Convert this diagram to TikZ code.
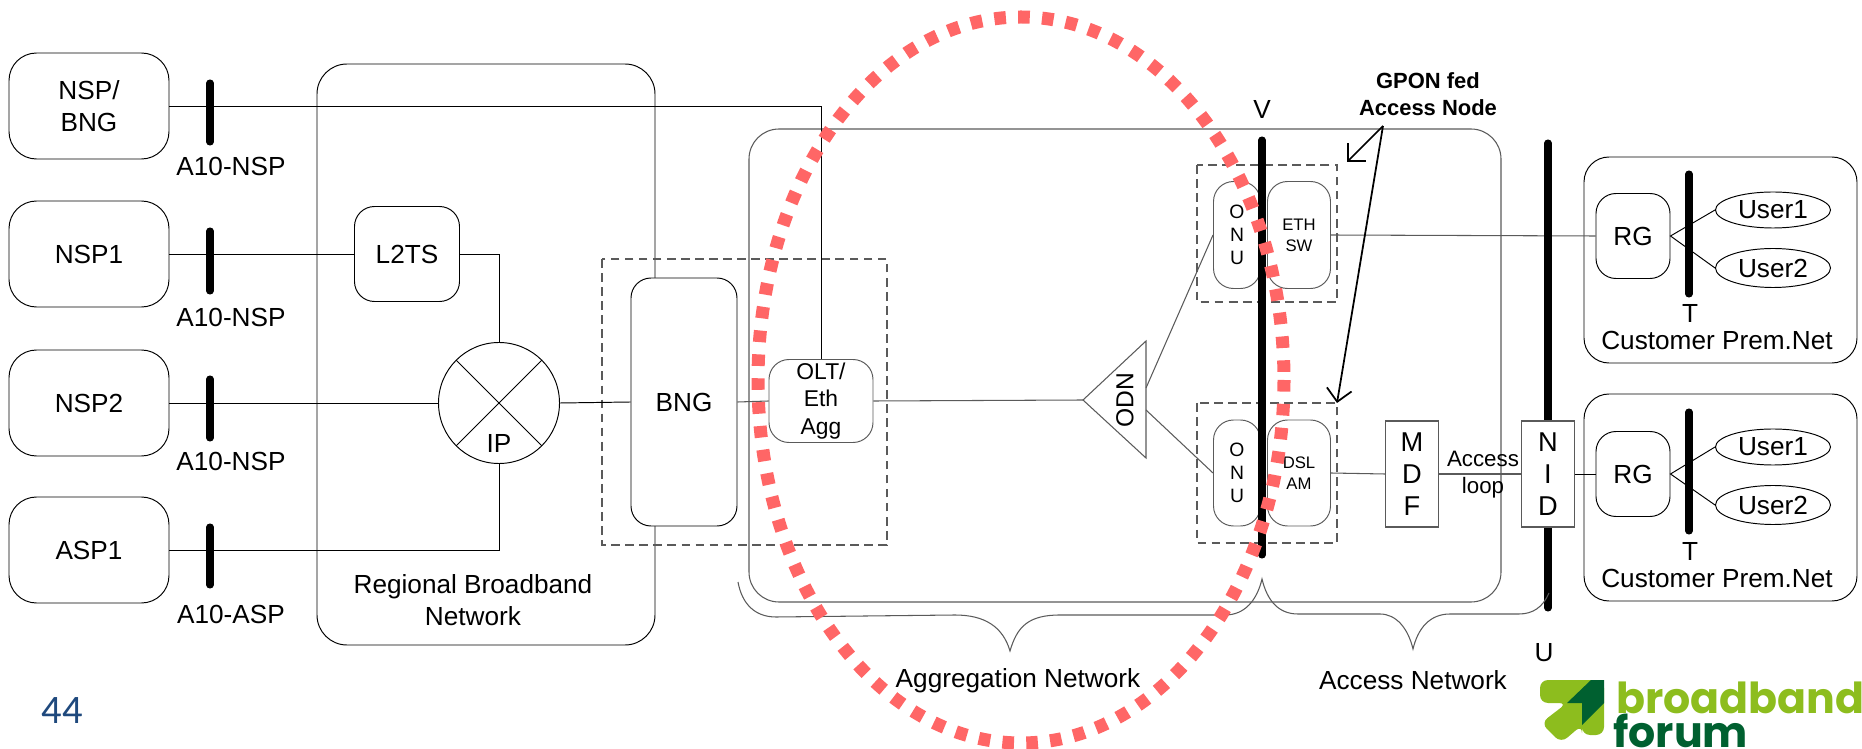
\documentclass[tikz,border=0pt]{standalone}
\usepackage{fontspec}
\usepackage{xcolor}
\usetikzlibrary{arrows.meta,shapes.geometric}
\setmainfont{Liberation Sans}
\newfontfamily\numfont{Carlito}
\newfontfamily\logofont{Poppins}
\definecolor{linegray}{HTML}{5A5A5A}
\definecolor{redring}{HTML}{FF6666}
\definecolor{bflight}{HTML}{8DBD1E}
\definecolor{bfdark}{HTML}{006030}
\definecolor{pagenum}{HTML}{1F497D}
\tikzset{
    every node/.style={inner sep=0pt,font=\fontsize{14.9}{18.5}\selectfont,align=center},
    netbox/.style={draw,fill=white,rounded corners=0.4cm,line width=0.55pt},
    sqbox/.style={draw=linegray,fill=white,line width=0.6pt},
    wire/.style={line width=0.55pt},
    graywire/.style={draw=linegray,line width=0.6pt},
    refbar/.style={line width=4pt,line cap=round},
    dashbox/.style={draw=linegray,dashed,dash pattern=on 5pt off 3pt,line width=0.6pt},
    smalltxt/.style={font=\fontsize{9.5}{12}\selectfont},
    onutxt/.style={font=\fontsize{11}{13}\selectfont},
}
\begin{document}
\begin{tikzpicture}[x=0.2mm,y=-0.2mm]
        \useasboundingbox (0,0) rectangle (1862,749);
        % regions
        \draw[wire,rounded corners=0.6cm] (317,64) rectangle (655,645);
        \draw[graywire,rounded corners=0.6cm] (749,129) rectangle (1501,602);
        \draw[dashbox] (602,259) rectangle (887,545);
        \draw[dashbox] (1197,165) rectangle (1337,302);
        \draw[dashbox] (1197,403) rectangle (1337,543);
        \draw[wire,rounded corners=0.5cm] (1584,157) rectangle (1857,363);
        \draw[wire,rounded corners=0.5cm] (1584,394) rectangle (1857,601);
        % service providers
        \node[netbox,rounded corners=0.55cm,minimum width=3.2cm,minimum height=2.12cm] at (89,106) (nspbng) {NSP/\\BNG};
        \node[netbox,rounded corners=0.55cm,minimum width=3.2cm,minimum height=2.12cm] at (89,254) (nsp1) {NSP1};
        \node[netbox,rounded corners=0.55cm,minimum width=3.2cm,minimum height=2.12cm] at (89,403) (nsp2) {NSP2};
        \node[netbox,rounded corners=0.55cm,minimum width=3.2cm,minimum height=2.12cm] at (89,550) (asp1) {ASP1};
        % regional network
        \node[netbox,minimum width=2.1cm,minimum height=1.9cm] at (407,254) (l2ts) {L2TS};
        \node[draw,circle,fill=white,line width=0.55pt,minimum size=2.42cm] at (499,403) (ip) {};
        \node at (499,443) (iptxt) {IP};
        \node[netbox,minimum width=2.12cm,minimum height=4.96cm] at (684,402) (bng) {BNG};
        \node[netbox,draw=linegray,minimum width=2.08cm,minimum height=1.66cm,font=\fontsize{13}{15.5}\selectfont] at (821,401) (olt) {OLT/\\Eth\\Agg};
        % optical distribution
        \coordinate (odna) at (1083,400);
        \coordinate (odnb) at (1146,341);
        \coordinate (odnc) at (1146,458);
        \coordinate (odnu) at (1146,388);
        \coordinate (odnl) at (1146,410);
        \draw[graywire] (odna) -- (odnb) -- (odnc) -- cycle;
        \node[rotate=90,font=\fontsize{14}{16}\selectfont] at (1125,400) (odn) {ODN};
        % access nodes
        \node[netbox,draw=linegray,minimum width=0.94cm,minimum height=2.14cm,onutxt] at (1237,235) (onu1) {O\\N\\U};
        \node[netbox,draw=linegray,minimum width=0.94cm,minimum height=2.12cm,onutxt] at (1237,473) (onu2) {O\\N\\U};
        \node[netbox,draw=linegray,minimum width=1.26cm,minimum height=2.14cm,smalltxt] at (1299,235) (ethsw) {ETH\\SW};
        \node[netbox,draw=linegray,minimum width=1.26cm,minimum height=2.12cm,smalltxt] at (1299,473) (dslam) {DSL\\AM};
        \node[sqbox,minimum width=1.06cm,minimum height=2.12cm,font=\fontsize{15.5}{18}\selectfont] at (1412,474) (mdf) {M\\D\\F};
        % customer side
        \node[netbox,minimum width=1.48cm,minimum height=1.7cm] at (1633,236) (rg1) {RG};
        \node[netbox,minimum width=1.48cm,minimum height=1.7cm] at (1633,474) (rg2) {RG};
        \node[draw,ellipse,line width=0.55pt,minimum width=2.3cm,minimum height=0.72cm] at (1773,210) (user1a) {User1};
        \node[draw,ellipse,line width=0.55pt,minimum width=2.3cm,minimum height=0.78cm] at (1773,268) (user2a) {User2};
        \node[draw,ellipse,line width=0.55pt,minimum width=2.3cm,minimum height=0.72cm] at (1773,447) (user1b) {User1};
        \node[draw,ellipse,line width=0.55pt,minimum width=2.3cm,minimum height=0.78cm] at (1773,505) (user2b) {User2};
        % links
        \draw[wire] (nspbng.east) -| (olt.north);
        \draw[wire] (nsp1.east) -- (l2ts.west);
        \draw[wire] (nsp2.east) -- (ip.west);
        \draw[wire] (asp1.east) -| (ip.south);
        \draw[wire] (l2ts.east) -| (ip.north);
        \draw[wire] (ip.45) -- (ip.225);
        \draw[wire] (ip.135) -- (ip.-45);
        \draw[wire] (ip.east) -- (bng.west);
        \draw[graywire] (bng.east) -- (olt.west);
        \draw[graywire] (olt.east) -- (odna);
        \draw[graywire] (odnu) -- (onu1.west);
        \draw[graywire] (odnl) -- (onu2.west);
        \draw[graywire] (ethsw.east) -- (rg1.west);
        \draw[graywire] (dslam.east) -- (mdf.west);
        \draw[wire] (user1a.west) -- (rg1.east) -- (user2a.west);
        \draw[wire] (user1b.west) -- (rg2.east) -- (user2b.west);
        % reference points
        \draw[refbar] (210,83) coordinate (a1t) -- (210,142) coordinate (a1b);
        \draw[refbar] (210,231) coordinate (a2t) -- (210,291) coordinate (a2b);
        \draw[refbar] (210,379) coordinate (a3t) -- (210,438) coordinate (a3b);
        \draw[refbar] (210,527) coordinate (a4t) -- (210,585) coordinate (a4b);
        \draw[refbar] (1262,140) coordinate (vt) -- (1262,555) coordinate (vb);
        \draw[refbar] (1548,143) coordinate (ut) -- (1548,608) coordinate (ub);
        \draw[refbar] (1689,174) coordinate (t1t) -- (1689,294) coordinate (t1b);
        \draw[refbar] (1689,412) coordinate (t2t) -- (1689,531) coordinate (t2b);
        \node[sqbox,minimum width=1.06cm,minimum height=2.12cm,font=\fontsize{15.5}{18}\selectfont] at (1548,474) (nid) {N\\I\\D};
        \draw[graywire] (mdf.east) -- (nid.west);
        \draw[wire] (nid.east) -- (rg2.west);
        % braces
        \draw[graywire] (738,582) .. controls (742,604) and (755,617) .. (776,617) -- (955,615) .. controls (985,615) and (1003,627) .. (1010,651) .. controls (1017,627) and (1028,615) .. (1060,615) -- (1225,615) .. controls (1245,615) and (1257,600) .. (1262,579) .. controls (1267,600) and (1278,614) .. (1298,614) -- (1380,614) .. controls (1396,614) and (1408,628) .. (1413,649) .. controls (1418,628) and (1430,614) .. (1450,614) -- (1519,614) .. controls (1533,614) and (1543,607) .. (1549,593);
        % labels
        \node at (231,166) (a10a) {A10-NSP};
        \node at (231,317) (a10b) {A10-NSP};
        \node at (231,461) (a10c) {A10-NSP};
        \node at (231,614) (a10d) {A10-ASP};
        \node at (473,600) (regional) {Regional Broadband\\Network};
        \node at (1262,109) (vtxt) {V};
        \node at (1544,653) (utxt) {U};
        \node at (1690,313) (t1txt) {T};
        \node at (1690,551) (t2txt) {T};
        \node at (1717,340) (cust1) {Customer Prem.Net};
        \node at (1717,578) (cust2) {Customer Prem.Net};
        \node[font=\fontsize{12.7}{15.5}\selectfont] at (1483,475) (accloop) {Access\\loop};
        \node at (1018,681) (aggnet) {Aggregation Network};
        \node at (1413,680) (accnet) {Access Network};
        \node[font=\bfseries\fontsize{12.5}{15.2}\selectfont] at (1428,94) (gpon) {GPON fed\\Access Node};
        \coordinate (gponfoot) at (1383,126);
        \coordinate (gponup) at (1347,162);
        \coordinate (gpondn) at (1337,403);
        \draw[line width=1pt,-{Straight Barb[length=2.5mm,width=5mm]}] (gponfoot) -- (gponup);
        \draw[line width=1pt,-{Straight Barb[length=2.5mm,width=5mm]}] (gponfoot) -- (gpondn);
        % ring
        \draw[redring,line width=7.4pt,dash pattern=on 6.6pt off 7pt] (1021,380) ellipse (263 and 363);
        % footer
        \node[text=pagenum,font=\numfont\fontsize{23}{26}\selectfont] at (62,711) (pageno) {44};
        \fill[bflight,rounded corners=0.16cm] (1540,680) -- (1604,680) -- (1604,735) -- (1582,735) -- (1582,725) -- (1561,743) -- (1541,723) -- (1567,703) -- (1540,703) -- cycle;
        \fill[bfdark] (1567,703) -- (1591,680) -- (1604,680) -- (1604,703) -- (1582,725) -- (1582,703) -- cycle;
        \node[text=bflight,anchor=base west,font=\logofont\bfseries\fontsize{24.3}{26}\selectfont] at (1616,713) (logoa) {broadband};
        \node[text=bfdark,anchor=base west,font=\logofont\bfseries\fontsize{24.3}{26}\selectfont] at (1613,747) (logob) {forum};
    \end{tikzpicture}
\end{document}
